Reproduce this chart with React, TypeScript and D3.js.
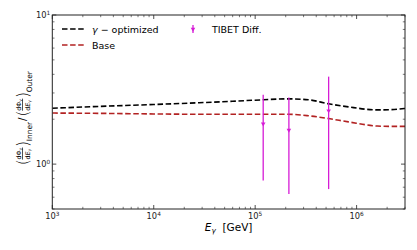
import React from "react";
import * as d3 from "d3";

// energies in GeV, ratios
const optEnergy = [1e3, 3e3, 1e4, 2.8e4, 6e4, 1.2e5, 2.1e5, 3.35e5, 5.3e5, 8.3e5, 1.6e6, 2.2e6, 3e6];
const optRatio = [2.37, 2.44, 2.51, 2.58, 2.64, 2.7, 2.74, 2.7, 2.54, 2.42, 2.31, 2.32, 2.36];
const baseEnergy = [1e3, 3e3, 1e4, 2.8e4, 6e4, 1.2e5, 2.1e5, 3.35e5, 5.3e5, 8.3e5, 1.6e6, 2.2e6, 3e6];
const baseRatio = [2.2, 2.19, 2.17, 2.16, 2.16, 2.16, 2.16, 2.11, 2.02, 1.92, 1.8, 1.79, 1.79];

const tibetEnergy = [1.2e5, 2.15e5, 5.3e5];
const tibetRatio = [1.86, 1.69, 2.28];
const tibetHigh = [2.92, 2.8, 3.86];
const tibetLow = [0.776, 0.63, 0.68];

const xMajor = [1e3, 1e4, 1e5, 1e6];
const xMajorExp = ["3", "4", "5", "6"];
const yMajor = [1, 10];
const yMajorExp = ["0", "1"];

const W = 417;
const H = 250;
const margin = { top: 15, right: 12, bottom: 41, left: 52.3 };
const FONT = "DejaVu Sans, sans-serif";
const MAGENTA = "#d61cd6";
const RED = "#b22222";

function minorTicks(lo: number, hi: number) {
  const out: number[] = [];
  for (let p = Math.floor(Math.log10(lo)); p <= Math.ceil(Math.log10(hi)); p++) {
    for (let k = 2; k <= 9; k++) {
      const v = k * Math.pow(10, p);
      if (v >= lo * 0.999 && v <= hi * 1.001) out.push(v);
    }
  }
  return out;
}

function Frac({ x, num }: { x: number; num: string }) {
  return (
    <g transform={`translate(${x},0)`}>
      <text x={0} y={-1.6} fontSize={5.5} fontFamily={FONT}>
        d{num}
        <tspan fontSize={4} dy={1.2}>γ</tspan>
      </text>
      <line x1={0} x2={10.5} y1={0} y2={0} stroke="#000" strokeWidth={0.6} />
      <text x={0} y={6.2} fontSize={5.5} fontFamily={FONT}>
        d<tspan fontStyle="italic">E</tspan>
        <tspan fontSize={4} dy={1.2}>γ</tspan>
      </text>
    </g>
  );
}

export default function App() {
  const x = d3.scaleLog().domain([1e3, 3e6]).range([margin.left, W - margin.right]);
  const y = d3.scaleLog().domain([0.5, 10]).range([H - margin.bottom, margin.top]);
  const [x0, x1] = x.range();
  const [y0, y1] = y.range();

  const line = d3
    .line<[number, number]>()
    .x((d) => x(d[0]))
    .y((d) => y(d[1]))
    .curve(d3.curveMonotoneX);

  const optPath = line(optEnergy.map((e, i) => [e, optRatio[i]])) || "";
  const basePath = line(baseEnergy.map((e, i) => [e, baseRatio[i]])) || "";
  const tri = d3.symbol(d3.symbolTriangle, 9)() || "";

  const xMinor = minorTicks(1e3, 3e6);
  const yMinor = minorTicks(0.5, 10);
  const ax = "#222";

  return (
    <svg width={W} height={H} style={{ position: "absolute", left: 0, top: 0 }}>
      <rect width={W} height={H} fill="#fff" />
      <defs>
        <clipPath id="clip">
          <rect x={x0} y={y1} width={x1 - x0} height={y0 - y1} />
        </clipPath>
      </defs>

      {/* curves */}
      <g clipPath="url(#clip)">
        <path d={optPath} fill="none" stroke="#000" strokeWidth={1.6} strokeDasharray="5.5,2.6" />
        <path d={basePath} fill="none" stroke={RED} strokeWidth={1.6} strokeDasharray="5.5,2.6" />
      </g>

      {/* TIBET points */}
      {tibetEnergy.map((e, i) => (
        <g key={i}>
          <line x1={x(e)} x2={x(e)} y1={y(tibetLow[i])} y2={y(tibetHigh[i])} stroke={MAGENTA} strokeWidth={1.3} />
          <path d={tri} transform={`translate(${x(e)},${y(tibetRatio[i])}) rotate(180)`} fill={MAGENTA} />
        </g>
      ))}

      {/* ticks, inward on all four sides */}
      {xMajor.map((v) => (
        <g key={"xM" + v}>
          <line x1={x(v)} x2={x(v)} y1={y0} y2={y0 - 4} stroke={ax} strokeWidth={0.8} />
          <line x1={x(v)} x2={x(v)} y1={y1} y2={y1 + 4} stroke={ax} strokeWidth={0.8} />
        </g>
      ))}
      {xMinor.map((v) => (
        <g key={"xm" + v}>
          <line x1={x(v)} x2={x(v)} y1={y0} y2={y0 - 2.2} stroke={ax} strokeWidth={0.6} />
          <line x1={x(v)} x2={x(v)} y1={y1} y2={y1 + 2.2} stroke={ax} strokeWidth={0.6} />
        </g>
      ))}
      {yMajor.map((v) => (
        <g key={"yM" + v}>
          <line x1={x0} x2={x0 + 4} y1={y(v)} y2={y(v)} stroke={ax} strokeWidth={0.8} />
          <line x1={x1} x2={x1 - 4} y1={y(v)} y2={y(v)} stroke={ax} strokeWidth={0.8} />
        </g>
      ))}
      {yMinor.map((v) => (
        <g key={"ym" + v}>
          <line x1={x0} x2={x0 + 2.2} y1={y(v)} y2={y(v)} stroke={ax} strokeWidth={0.6} />
          <line x1={x1} x2={x1 - 2.2} y1={y(v)} y2={y(v)} stroke={ax} strokeWidth={0.6} />
        </g>
      ))}
      <rect x={x0} y={y1} width={x1 - x0} height={y0 - y1} fill="none" stroke={ax} strokeWidth={1} />

      {/* tick labels */}
      {xMajor.map((v, i) => (
        <text key={"xl" + v} x={x(v)} y={y0 + 10} fontSize={8.3} fontFamily={FONT} textAnchor="middle" fill="#222">
          10<tspan fontSize={5.8} dy={-3.3}>{xMajorExp[i]}</tspan>
        </text>
      ))}
      {yMajor.map((v, i) => (
        <text key={"yl" + v} x={x0 - 2} y={y(v) + 3} fontSize={8.3} fontFamily={FONT} textAnchor="end" fill="#222">
          10<tspan fontSize={5.8} dy={-3.3}>{yMajorExp[i]}</tspan>
        </text>
      ))}

      {/* axis titles */}
      <text x={(x0 + x1) / 2} y={231} fontSize={10.5} fontFamily={FONT} textAnchor="middle" style={{ whiteSpace: "pre" }}>
        <tspan fontStyle="italic">E</tspan>
        <tspan fontStyle="italic" fontSize={7.3} dy={2}>γ</tspan>
        <tspan dy={-2}>{"  [GeV]"}</tspan>
      </text>
      <g transform={`translate(22.5,109) rotate(-90) scale(1.15)`}>
        <text x={-49} y={4.5} fontSize={14} fontFamily={FONT} fontWeight={200}>(</text>
        <Frac x={-44} num="Φ" />
        <text x={-33} y={4.5} fontSize={14} fontFamily={FONT} fontWeight={200}>)</text>
        <text x={-28} y={8} fontSize={6.5} fontFamily={FONT}>Inner</text>
        <text x={-10.5} y={3} fontSize={9} fontFamily={FONT}>/</text>
        <text x={-6.5} y={4.5} fontSize={14} fontFamily={FONT} fontWeight={200}>(</text>
        <Frac x={-1.5} num="Φ" />
        <text x={9.5} y={4.5} fontSize={14} fontFamily={FONT} fontWeight={200}>)</text>
        <text x={14.5} y={8} fontSize={6.5} fontFamily={FONT}>Outer</text>
      </g>

      {/* legend */}
      <line x1={62} x2={84} y1={29} y2={29} stroke="#000" strokeWidth={1.6} strokeDasharray="5.5,2.6" />
      <text x={92} y={32.5} fontSize={9.5} fontFamily={FONT} style={{ whiteSpace: "pre" }}>
        <tspan fontStyle="italic">γ</tspan>{" − optimized"}
      </text>
      <line x1={62} x2={84} y1={45} y2={45} stroke={RED} strokeWidth={1.6} strokeDasharray="5.5,2.6" />
      <text x={92} y={48.5} fontSize={9.5} fontFamily={FONT}>Base</text>
      <line x1={193} x2={193} y1={25} y2={33} stroke={MAGENTA} strokeWidth={1.3} />
      <path d={tri} transform="translate(193,29) rotate(180)" fill={MAGENTA} />
      <text x={212} y={32.5} fontSize={9.5} fontFamily={FONT}>TIBET Diff.</text>
    </svg>
  );
}
